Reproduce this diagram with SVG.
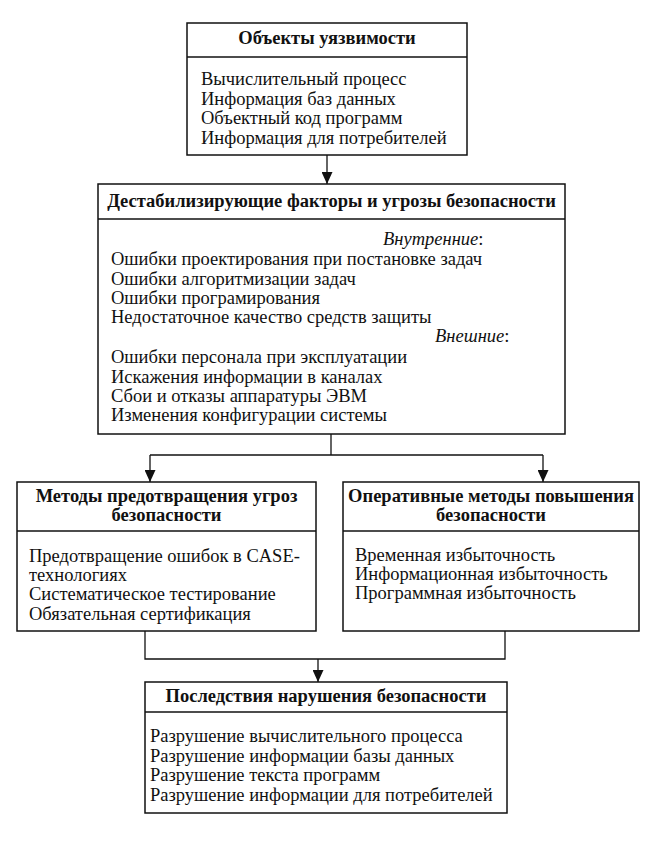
<svg xmlns="http://www.w3.org/2000/svg" width="652" height="849" viewBox="0 0 652 849">
<style>
.box{fill:none;stroke:#111;stroke-width:1.5}
.div{stroke:#111;stroke-width:1.3}
.con{fill:none;stroke:#111;stroke-width:1.3}
text{font-family:"Liberation Serif","Times New Roman",serif;font-size:18.5px;fill:#111}
.h{font-weight:bold;text-anchor:middle}
.it{font-style:italic}
</style>
<defs>
<marker id="arr" viewBox="0 0 12 11" refX="12" refY="5.5" markerWidth="12" markerHeight="11" markerUnits="userSpaceOnUse" orient="auto">
<path d="M0,0 L12,5.5 L0,11 z" fill="#111"/>
</marker>
</defs>
<rect width="652" height="849" fill="#fff"/>
<g id="connectors">
<line class="con" x1="327" y1="155" x2="327" y2="184" marker-end="url(#arr)"/>
<polyline class="con" points="331,434 331,455"/>
<polyline class="con" points="150,455 543,455"/>
<line class="con" x1="150" y1="455" x2="150" y2="482" marker-end="url(#arr)"/>
<line class="con" x1="543" y1="455" x2="543" y2="482" marker-end="url(#arr)"/>
<polyline class="con" points="145,631 145,659 505,659 505,631"/>
<line class="con" x1="318" y1="659" x2="318" y2="682" marker-end="url(#arr)"/>
</g>
<g id="node-objects">
<rect class="box" x="187" y="23" width="280" height="132"/>
<line class="div" x1="187" y1="57" x2="467" y2="57"/>
<text class="h" x="327" y="44">Объекты уязвимости</text>
<text x="201" y="85">Вычислительный процесс</text>
<text x="201" y="104.5">Информация баз данных</text>
<text x="201" y="124">Объектный код программ</text>
<text x="201" y="143.5">Информация для потребителей</text>
</g>
<g id="node-threats">
<rect class="box" x="98" y="184" width="467" height="250"/>
<line class="div" x1="98" y1="219" x2="565" y2="219"/>
<text class="h" x="331.5" y="207">Дестабилизирующие факторы и угрозы безопасности</text>
<text x="383" y="245"><tspan class="it">Внутренние</tspan>:</text>
<text x="111" y="265">Ошибки проектирования при постановке задач</text>
<text x="111" y="284.5">Ошибки алгоритмизации задач</text>
<text x="111" y="304">Ошибки програмирования</text>
<text x="111" y="323">Недостаточное качество средств защиты</text>
<text x="435" y="342"><tspan class="it">Внешние</tspan>:</text>
<text x="111" y="363">Ошибки персонала при эксплуатации</text>
<text x="111" y="382.5">Искажения информации в каналах</text>
<text x="111" y="402">Сбои и отказы аппаратуры ЭВМ</text>
<text x="111" y="421">Изменения конфигурации системы</text>
</g>
<g id="node-prevention">
<rect class="box" x="17" y="482" width="299" height="149"/>
<line class="div" x1="17" y1="531" x2="316" y2="531"/>
<text class="h" x="166.5" y="502">Методы предотвращения угроз</text>
<text class="h" x="166.5" y="521">безопасности</text>
<text x="29" y="562">Предотвращение ошибок в CASE-</text>
<text x="29" y="580.5">технологиях</text>
<text x="29" y="600">Систематическое тестирование</text>
<text x="29" y="619.5">Обязательная сертификация</text>
</g>
<g id="node-operative">
<rect class="box" x="343" y="482" width="296" height="149"/>
<line class="div" x1="343" y1="531" x2="639" y2="531"/>
<text class="h" x="491" y="502">Оперативные методы повышения</text>
<text class="h" x="491" y="521">безопасности</text>
<text x="355" y="560.5">Временная избыточность</text>
<text x="355" y="580">Информационная избыточность</text>
<text x="355" y="599">Программная избыточность</text>
</g>
<g id="node-consequences">
<rect class="box" x="145" y="682" width="362" height="131"/>
<line class="div" x1="145" y1="712" x2="507" y2="712"/>
<text class="h" x="326" y="702">Последствия нарушения безопасности</text>
<text x="150" y="742">Разрушение вычислительного процесса</text>
<text x="150" y="761.5">Разрушение информации базы данных</text>
<text x="150" y="781">Разрушение текста программ</text>
<text x="150" y="800.5">Разрушение информации для потребителей</text>
</g>
</svg>
